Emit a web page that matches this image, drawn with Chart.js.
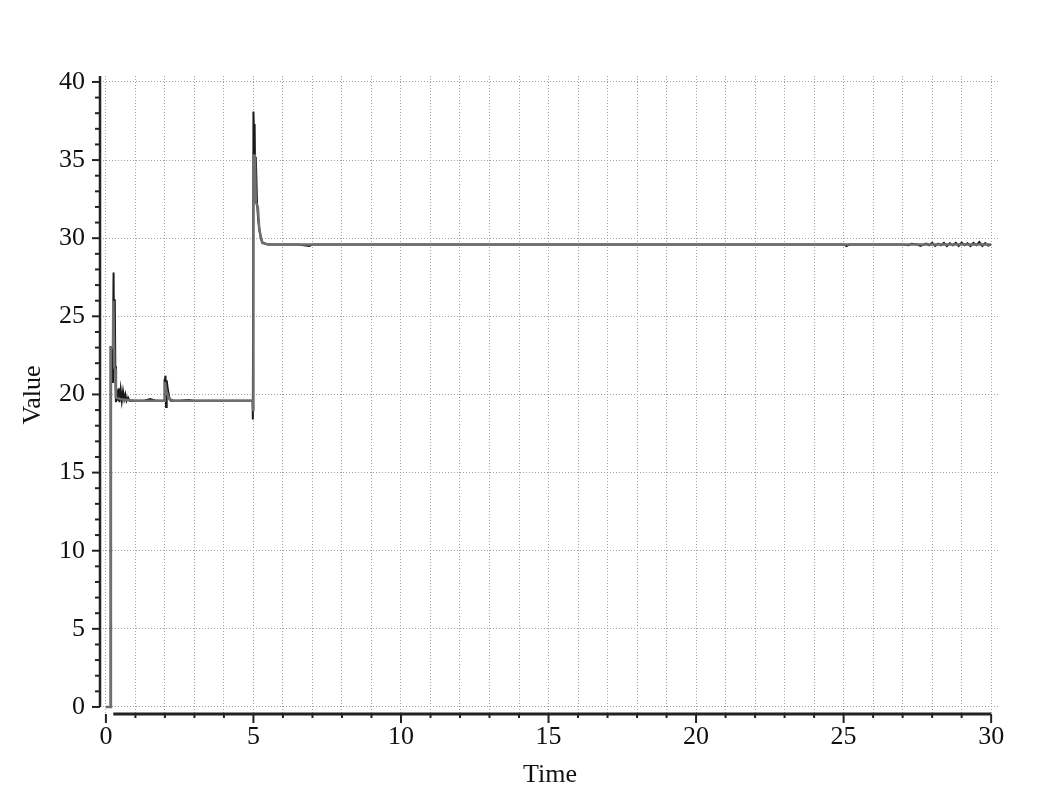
<!DOCTYPE html>
<html>
<head>
<meta charset="utf-8">
<script src="https://cdn.jsdelivr.net/npm/chart.js@4.4.0/dist/chart.umd.min.js"></script>
<style>
  html, body { margin: 0; padding: 0; background: #fff; }
  #wrap { width: 1063px; height: 812px; }
</style>
</head>
<body>
<div id="wrap"><canvas id="main-chart" width="1063" height="812"></canvas></div>
<script>
// raw signal (dark line)
const rawTime = [0, 0.15, 0.16, 0.22, 0.24, 0.26, 0.28, 0.30, 0.32, 0.34, 0.37, 0.40, 0.43, 0.46, 0.50, 0.54, 0.58, 0.62, 0.66, 0.70, 0.75, 0.80, 1.0, 1.3, 1.5, 1.7, 1.97, 1.98, 2.0, 2.02, 2.04, 2.06, 2.10, 2.15, 2.2, 2.5, 2.8, 3.0, 3.5, 4.0, 4.5, 4.97, 4.98, 5.0, 5.02, 5.04, 5.06, 5.08, 5.12, 5.16, 5.2, 5.25, 5.3, 5.4, 5.5, 6.5, 6.9, 7.0, 7.1, 10, 15, 20, 25, 25.1, 25.2,
  27.0, 27.2, 27.3, 27.5, 27.6, 27.8, 27.9, 28.0, 28.1, 28.2, 28.3, 28.4, 28.5, 28.6, 28.7, 28.8, 28.9, 29.0, 29.1, 29.2, 29.3, 29.4, 29.5, 29.6, 29.7, 29.8, 29.9, 30.0];
const rawValue = [0, 0, 23.1, 20.8, 23.0, 27.8, 21.6, 26.1, 21.8, 19.5, 20.3, 19.6, 20.4, 19.5, 20.3, 19.6, 20.2, 19.7, 20.0, 19.6, 19.8, 19.6, 19.6, 19.6, 19.7, 19.6, 19.6, 21.0, 20.6, 21.2, 19.2, 20.9, 20.3, 19.8, 19.6, 19.6, 19.65, 19.6, 19.6, 19.6, 19.6, 19.6, 18.4, 38.1, 36.5, 37.3, 33.5, 35.2, 32.3, 31.2, 30.6, 30.0, 29.75, 29.65, 29.6, 29.6, 29.5, 29.6, 29.6, 29.6, 29.6, 29.6, 29.6, 29.5, 29.6,
  29.6, 29.55, 29.65, 29.6, 29.5, 29.65, 29.55, 29.7, 29.5, 29.65, 29.55, 29.7, 29.5, 29.68, 29.55, 29.7, 29.5, 29.72, 29.55, 29.68, 29.5, 29.7, 29.55, 29.75, 29.5, 29.68, 29.52, 29.6];

// filtered signal (grey line)
const filtTime = [0, 0.16, 0.17, 0.24, 0.25, 0.29, 0.32, 0.34, 0.5, 1.0, 1.97, 2.0, 2.05, 2.15, 2.3, 4.98, 4.99, 5.0, 5.05, 5.08, 5.15, 5.2, 5.3, 5.5, 30.0];
const filtValue = [0, 0, 23.0, 23.0, 26.0, 21.7, 21.6, 19.8, 19.7, 19.6, 19.6, 20.8, 20.2, 19.7, 19.6, 19.6, 19.0, 35.3, 35.3, 32.3, 32.0, 30.5, 29.7, 29.6, 29.6];

const xTicks = [0,1,2,3,4,5,6,7,8,9,10,11,12,13,14,15,16,17,18,19,20,21,22,23,24,25,26,27,28,29,30];
const yTicks = [0, 5, 10, 15, 20, 25, 30, 35, 40];

function toPoints(ts, vs) {
  return ts.map((t, i) => ({ x: t, y: vs[i] }));
}

const FONT = "'Liberation Serif', 'Times New Roman', serif";

// Maple-style axes: offset from the plot, with major and minor ticks
const axesPlugin = {
  id: 'mapleAxes',
  afterDraw(chart) {
    const ctx = chart.ctx;
    const xs = chart.scales.x;
    const ys = chart.scales.y;
    const area = chart.chartArea;
    ctx.save();
    ctx.strokeStyle = '#222';
    ctx.lineWidth = 2.5;
    // y axis
    ctx.beginPath();
    ctx.moveTo(area.left, ys.getPixelForValue(0));
    ctx.lineTo(area.left, area.top);
    ctx.stroke();
    ctx.lineWidth = 2;
    for (let v = 0; v <= 40; v++) {
      const py = ys.getPixelForValue(v);
      const len = v % 5 === 0 ? 8 : 5;
      ctx.beginPath();
      ctx.moveTo(area.left - len, py);
      ctx.lineTo(area.left, py);
      ctx.stroke();
    }
    // x axis
    ctx.lineWidth = 3;
    ctx.beginPath();
    ctx.moveTo(xs.getPixelForValue(0.25), area.bottom);
    ctx.lineTo(xs.getPixelForValue(30), area.bottom);
    ctx.stroke();
    ctx.lineWidth = 2;
    for (let t = 0; t <= 30; t++) {
      const px = xs.getPixelForValue(t);
      const len = t % 5 === 0 ? 9 : 4;
      ctx.beginPath();
      ctx.moveTo(px, area.bottom);
      ctx.lineTo(px, area.bottom + len);
      ctx.stroke();
    }
    ctx.restore();
  }
};

const ctx = document.getElementById('main-chart').getContext('2d');
new Chart(ctx, {
  type: 'scatter',
  data: {
    datasets: [
      {
        label: 'filtered',
        data: toPoints(filtTime, filtValue),
        showLine: true,
        borderColor: '#6f6f6f',
        borderWidth: 2.5,
        pointRadius: 0,
        tension: 0,
        order: 0
      },
      {
        label: 'raw',
        data: toPoints(rawTime, rawValue),
        showLine: true,
        borderColor: '#1a1a1a',
        borderWidth: 2,
        pointRadius: 0,
        tension: 0,
        order: 1
      }
    ]
  },
  options: {
    responsive: false,
    animation: false,
    layout: { padding: { left: 0, right: 63, top: 76, bottom: 0 } },
    plugins: { legend: { display: false }, tooltip: { enabled: false } },
    scales: {
      x: {
        type: 'linear',
        min: -0.2,
        max: 30.3,
        afterBuildTicks: (s) => { s.ticks = xTicks.map(v => ({ value: v })); },
        afterFit: (s) => { s.height = 98; },
        border: { display: false, dash: [1, 2] },
        grid: { color: '#a0a0a0', lineWidth: 1, drawTicks: false },
        ticks: {
          autoSkip: false,
          maxRotation: 0,
          padding: 8,
          color: '#111',
          font: { family: FONT, size: 26 },
          callback: (v) => (v % 5 === 0 ? String(v) : '')
        },
        title: { display: true, text: 'Time', color: '#111', font: { family: FONT, size: 26 }, padding: { top: 0, bottom: 21 } }
      },
      y: {
        type: 'linear',
        min: -0.45,
        max: 40.38,
        afterBuildTicks: (s) => { s.ticks = yTicks.map(v => ({ value: v })); },
        afterFit: (s) => { s.width = 100; },
        border: { display: false, dash: [1, 2] },
        grid: { color: '#a0a0a0', lineWidth: 1, drawTicks: false },
        ticks: {
          padding: 15,
          color: '#111',
          font: { family: FONT, size: 26 }
        },
        title: { display: true, text: 'Value', color: '#111', font: { family: FONT, size: 26 }, padding: { top: 18, bottom: 0 } }
      }
    }
  },
  plugins: [axesPlugin]
});
</script>
</body>
</html>
